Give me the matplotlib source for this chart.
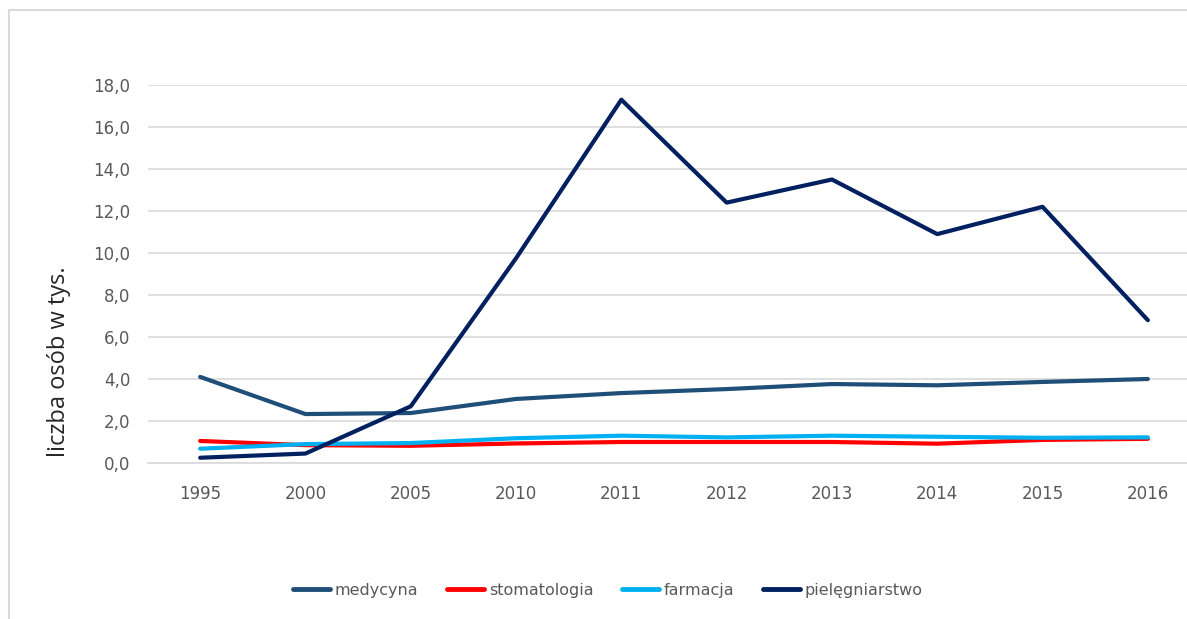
import numpy as np
import matplotlib.pyplot as plt
from matplotlib.patches import Rectangle

years = ['1995', '2000', '2005', '2010', '2011', '2012', '2013', '2014', '2015', '2016']
medycyna = [4.1, 2.33, 2.38, 3.05, 3.33, 3.52, 3.76, 3.7, 3.86, 4.0]
stomatologia = [1.05, 0.85, 0.82, 0.93, 1.0, 1.0, 1.0, 0.92, 1.1, 1.15]
farmacja = [0.68, 0.9, 0.95, 1.18, 1.3, 1.22, 1.3, 1.25, 1.2, 1.22]
pielegniarstwo = [0.25, 0.45, 2.7, 9.75, 17.3, 12.4, 13.5, 10.9, 12.2, 6.8]

series = [('medycyna', medycyna, '#1F4E79'),
          ('stomatologia', stomatologia, '#FF0000'),
          ('farmacja', farmacja, '#00B0F0'),
          ('pielęgniarstwo', pielegniarstwo, '#002060')]

W, H = 1187, 619
fig = plt.figure(figsize=(W / 100, H / 100), dpi=100)

# light frame around the chart
fig.patches.append(Rectangle((9 / W, -0.05), 1.1, 1 - 10 / H + 0.05, transform=fig.transFigure,
                             fill=False, edgecolor='#D9D9D9', linewidth=1.5))

ax = fig.add_axes([147.5 / W, 1 - 463 / H, 1053 / W, (463 - 85) / H])
x = np.arange(len(years))
for name, vals, col in series:
    ax.plot(x, vals, color=col, linewidth=3, label=name, solid_capstyle='round')

ax.set_xlim(-0.5, len(years) - 0.5)
ax.set_ylim(0, 18)
ax.set_yticks(np.arange(0, 18.1, 2))
ax.set_yticklabels([f'{v:.1f}'.replace('.', ',') for v in np.arange(0, 18.1, 2)])
ax.set_xticks(x)
ax.set_xticklabels(years)
ax.grid(axis='y', color='#D9D9D9', linewidth=1.2)
ax.set_axisbelow(True)
for s in ['top', 'right', 'left']:
    ax.spines[s].set_visible(False)
ax.spines['bottom'].set_color('#D9D9D9')
ax.spines['bottom'].set_linewidth(1.2)
ax.tick_params(length=0, labelsize=12, labelcolor='#595959', pad=16)
ax.tick_params(axis='y', pad=12.5)

ax.set_ylabel('liczba osób w tys.', fontsize=17, family='Open Sans', color='#262626')
ax.yaxis.set_label_coords(-0.073, 0.267)

leg = fig.legend(loc='center', bbox_to_anchor=(608 / W, 1 - 590 / H), ncol=4, frameon=False,
                 prop={'size': 11.5}, handlelength=2.3,
                 handletextpad=0.3, columnspacing=1.8)
for t in leg.get_texts():
    t.set_color('#595959')
for h in leg.get_lines():
    h.set_linewidth(3.5)

fig.savefig('out.png', dpi=100)
